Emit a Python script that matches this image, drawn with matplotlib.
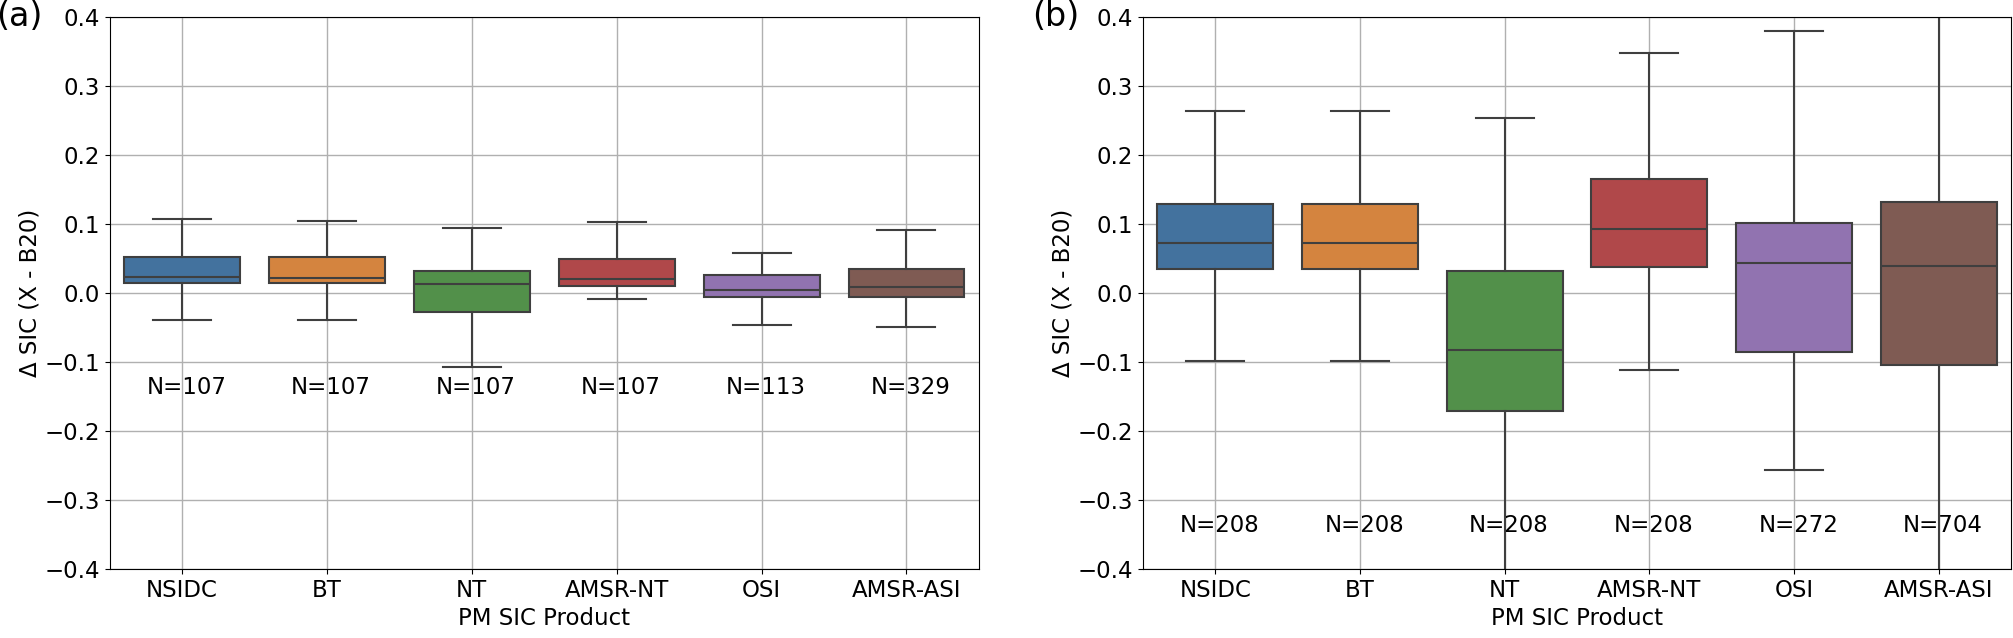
import numpy as np
import matplotlib.pyplot as plt

# ── data ──────────────────────────────────────────────
PRODUCTS = ["NSIDC", "BT", "NT", "AMSR-NT", "OSI", "AMSR-ASI"]

# panel (a)
A_WHISLO = [-0.039, -0.039, -0.107, -0.009, -0.046, -0.049]
A_Q1     = [0.015, 0.015, -0.027, 0.010, -0.005, -0.006]
A_MED    = [0.023, 0.022, 0.013, 0.021, 0.005, 0.009]
A_Q3     = [0.053, 0.052, 0.032, 0.050, 0.026, 0.035]
A_WHISHI = [0.108, 0.105, 0.094, 0.103, 0.058, 0.092]
A_N      = [107, 107, 107, 107, 113, 329]

# panel (b)
B_WHISLO = [-0.099, -0.099, -0.45, -0.111, -0.256, -0.50]
B_Q1     = [0.035, 0.035, -0.171, 0.038, -0.086, -0.104]
B_MED    = [0.073, 0.073, -0.083, 0.093, 0.044, 0.040]
B_Q3     = [0.129, 0.129, 0.032, 0.165, 0.102, 0.132]
B_WHISHI = [0.264, 0.264, 0.254, 0.348, 0.380, 0.50]
B_N      = [208, 208, 208, 208, 272, 704]

COLORS = ["#43729e", "#d4843f", "#52904a", "#b0484a", "#9173b0", "#7f5b53"]
FS = 16.5
LINE = "#3f3f3f"


def draw_panel(ax, whislo, q1, med, q3, whishi, counts, n_y):
    stats = []
    for i, name in enumerate(PRODUCTS):
        stats.append(dict(label=name, whislo=whislo[i], q1=q1[i], med=med[i],
                          q3=q3[i], whishi=whishi[i], fliers=[]))
    pos = np.arange(len(PRODUCTS))
    lw = 1.5
    bp = ax.bxp(stats, positions=pos, widths=0.8, patch_artist=True,
                showfliers=False,
                boxprops=dict(edgecolor=LINE, linewidth=lw),
                medianprops=dict(color=LINE, linewidth=lw),
                whiskerprops=dict(color=LINE, linewidth=lw),
                capprops=dict(color=LINE, linewidth=lw),
                capwidths=0.4)
    for patch, c in zip(bp["boxes"], COLORS):
        patch.set_facecolor(c)
        patch.set_zorder(2)
    for p, n in zip(pos, counts):
        ax.text(p + 0.03, n_y, f"N={n}", ha="center", va="center", fontsize=FS)

    ax.set_ylim(-0.4, 0.4)
    ax.set_xlim(-0.5, len(PRODUCTS) - 0.5)
    ax.set_yticks(np.arange(-0.4, 0.41, 0.1))
    ax.grid(True, color="#b0b0b0", linewidth=1.0)
    ax.set_axisbelow(True)
    ax.tick_params(labelsize=FS)
    ax.set_xlabel("PM SIC Product", fontsize=FS, labelpad=4)
    ax.set_ylabel("Δ SIC (X - B20)", fontsize=FS, labelpad=2)
    return ax


fig = plt.figure(figsize=(20.13, 6.38), dpi=100)
ax_a = fig.add_axes([0.0544, 0.108, 0.4319, 0.865])
ax_b = fig.add_axes([0.5678, 0.108, 0.4312, 0.865])

draw_panel(ax_a, A_WHISLO, A_Q1, A_MED, A_Q3, A_WHISHI, A_N, -0.137)
draw_panel(ax_b, B_WHISLO, B_Q1, B_MED, B_Q3, B_WHISHI, B_N, -0.337)

fig.text(-0.002, 1.0, "(a)", fontsize=24, ha="left", va="top")
fig.text(0.5125, 1.0, "(b)", fontsize=24, ha="left", va="top")

fig.savefig("out.png", dpi=100)
